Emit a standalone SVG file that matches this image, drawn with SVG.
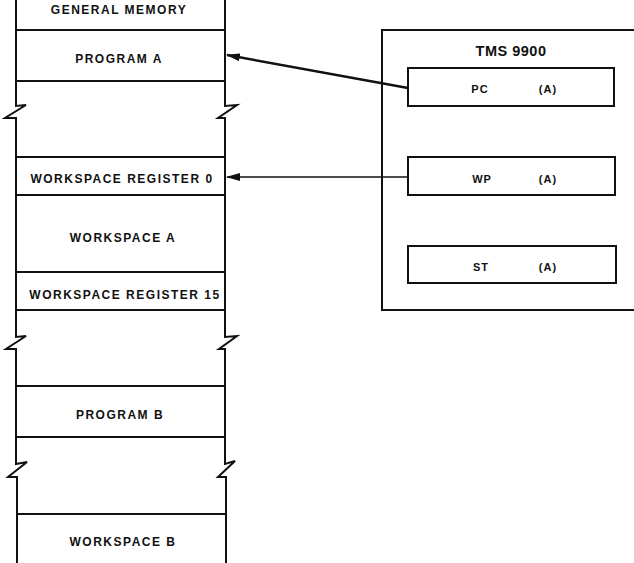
<svg xmlns="http://www.w3.org/2000/svg" width="634" height="563" viewBox="0 0 634 563">
<defs>
<style>
.ln{fill:none;stroke:#111;stroke-width:2;stroke-linejoin:miter}
.bx{fill:#fff;stroke:#111;stroke-width:2}
.t{font-family:"Liberation Sans",Arial,sans-serif;font-weight:bold;font-size:12px;letter-spacing:1.5px;fill:#111;text-anchor:middle}
.r{font-family:"Liberation Sans",Arial,sans-serif;font-weight:bold;font-size:11px;letter-spacing:1px;fill:#111;text-anchor:middle}
.h{font-family:"Liberation Sans",Arial,sans-serif;font-weight:bold;font-size:14.5px;letter-spacing:0.5px;fill:#111;text-anchor:middle}
</style>
<marker id="ah" viewBox="0 0 14 8" refX="13" refY="4" markerWidth="14" markerHeight="8" markerUnits="userSpaceOnUse" orient="auto">
<path d="M0,0 L14,4 L0,8 Z" fill="#111"/>
</marker>
</defs>
<rect width="634" height="563" fill="#fff"/>
<g id="memory">
<path class="ln" d="M16,0 L16,106 L26,105 L5,118 L16,118 L16,337 L26,336 L6,349 L16,349 L16,464 L27,462 L8,477 L17,477 L17,563"/>
<path class="ln" d="M225,0 L225,106 L237,105 L218,118 L225,118 L225,337 L237,336 L219,349 L225,349 L225,464 L235,461 L218,477 L226,477 L226,563"/>
<g class="ln">
<line x1="16" y1="30" x2="225" y2="30"/>
<line x1="16" y1="81" x2="225" y2="81"/>
<line x1="16" y1="157" x2="225" y2="157"/>
<line x1="16" y1="195" x2="225" y2="195"/>
<line x1="16" y1="272" x2="225" y2="272"/>
<line x1="16" y1="310" x2="225" y2="310"/>
<line x1="16" y1="386" x2="225" y2="386"/>
<line x1="16" y1="437" x2="226" y2="437"/>
<line x1="17" y1="514" x2="226" y2="514"/>
</g>
</g>
<g id="general-memory"><text class="t" x="119" y="14">GENERAL MEMORY</text></g>
<g id="program-a"><text class="t" x="119" y="63">PROGRAM A</text></g>
<g id="ws-reg-0"><text class="t" x="122" y="183">WORKSPACE REGISTER 0</text></g>
<g id="workspace-a"><text class="t" x="123" y="242">WORKSPACE A</text></g>
<g id="ws-reg-15"><text class="t" x="125" y="299">WORKSPACE REGISTER 15</text></g>
<g id="program-b"><text class="t" x="120" y="419">PROGRAM B</text></g>
<g id="workspace-b"><text class="t" x="123" y="546">WORKSPACE B</text></g>
<g id="tms9900">
<path class="ln" d="M640,30 L382,30 L382,310 L640,310"/>
<text class="h" x="511" y="56">TMS 9900</text>
</g>
<g id="pc">
<rect class="bx" x="408" y="68" width="206" height="38"/>
<text class="r" x="480" y="93">PC</text>
<text class="r" x="548" y="93">(A)</text>
</g>
<g id="wp">
<rect class="bx" x="408" y="157" width="207" height="38"/>
<text class="r" x="482" y="183">WP</text>
<text class="r" x="548" y="183">(A)</text>
</g>
<g id="st">
<rect class="bx" x="408" y="246" width="208" height="37"/>
<text class="r" x="481" y="271">ST</text>
<text class="r" x="548" y="271">(A)</text>
</g>
<g id="connectors">
<line x1="408" y1="88" x2="227" y2="55" stroke="#111" stroke-width="2.5" marker-end="url(#ah)"/>
<line x1="408" y1="177" x2="227" y2="177" stroke="#111" stroke-width="1.5" marker-end="url(#ah)"/>
</g>
</svg>
